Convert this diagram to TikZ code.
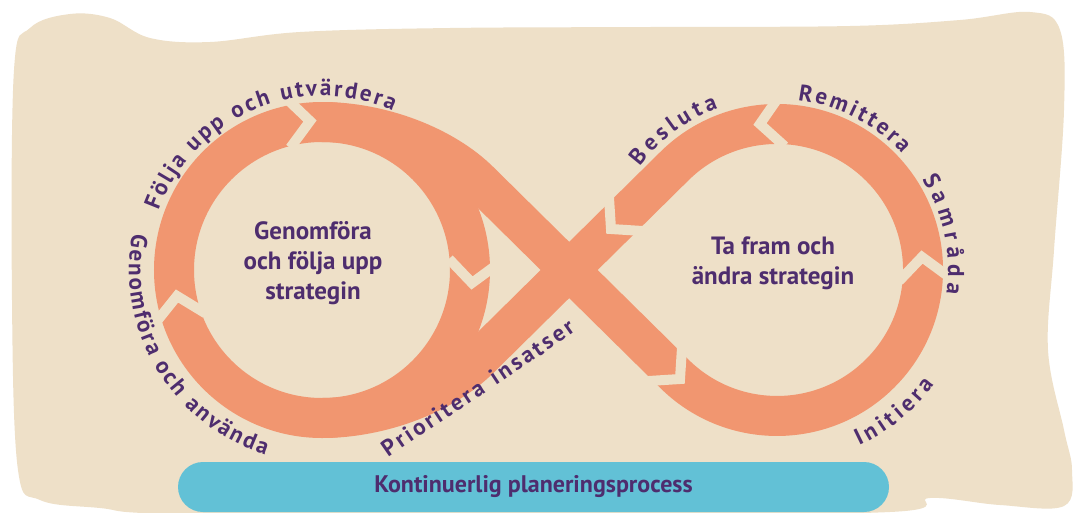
\documentclass[tikz,border=0pt]{standalone}
\usepackage{fontspec}
\setmainfont{PT Sans}
\usetikzlibrary{decorations.text}
\definecolor{beige}{RGB}{238,224,200}
\definecolor{salmon}{RGB}{241,150,112}
\definecolor{plum}{RGB}{78,45,110}
\definecolor{sky}{RGB}{98,193,214}
\newcommand\curvefont{\bfseries\fontsize{23}{23}\selectfont}
\tikzset{
  band/.style={draw=salmon, line width=40pt},
  gapline/.style={draw=beige, line width=10pt, line join=miter, miter limit=10},
  chev/.pic={\draw[gapline] (-22,25) -- (0,0) -- (-22,-25);},
  curvy/.style={decorate, decoration={text along path, text align=fit to path, text color=plum, text={#1}}},
  lbl/.style={text=plum, font=\bfseries\fontsize{25}{30}\selectfont, align=center},
}
\begin{document}
\begin{tikzpicture}[x=1pt,y=1pt]
\useasboundingbox (0,0) rectangle (1077,-512);
\fill[white] (0,0) rectangle (1077,-512);
% background blob
\fill[beige] plot[smooth cycle, tension=0.6] coordinates {
  (14,-70) (30,-28) (70,-14) (110,-18) (150,-38) (210,-42) (300,-32) (450,-28)
  (650,-27) (850,-26) (960,-20) (1030,-12) (1060,-30) (1064,-110) (1054,-250)
  (1048,-350) (1064,-430) (1072,-470) (1064,-506) (1000,-505) (930,-498)
  (890,-512) (550,-516) (180,-514) (100,-508) (40,-500) (18,-470) (12,-300)};
\coordinate (L) at (322,-270);
\coordinate (R) at (777,-270);
% orange bands
\draw[band] (L) circle[radius=148];
\draw[band] (322,-122) .. controls (381,-122) and (444,-146) .. (480,-182)
  -- (673.8,-373.2) arc[start angle=-135, end angle=135, radius=146]
  -- (480,-358) .. controls (444,-394) and (381,-418) .. (322,-418);
% chevron gaps
\path (310,-121) pic[rotate=5]{chev};
\path (472,-283) pic[rotate=-95]{chev};
\path (177,-296) pic[rotate=100]{chev};
\path (680,-379) pic[rotate=-45]{chev};
\path (922,-257) pic[rotate=95]{chev};
\path (760,-124) pic[rotate=186.6]{chev};
\path (611,-229) pic[rotate=225]{chev};
% curved labels
\path[curvy={|\curvefont|Följa upp och utvärdera}] (L) ++(160:174) arc[start angle=160, end angle=66, radius=174];
\path[curvy={|\curvefont|Genomföra och använda}] (L) ++(169:193) arc[start angle=169, end angle=253, radius=193];
\path[curvy={|\curvefont|Prioritera insatser}] (388,-458) .. controls (448,-416) and (512,-376) .. (576,-331);
\path[curvy={|\curvefont|Besluta}] (R) ++(143:172) arc[start angle=143, end angle=110, radius=172];
\path[curvy={|\curvefont|Remittera}] (R) ++(83:171) arc[start angle=83, end angle=43, radius=171];
\path[curvy={|\curvefont|Samråda}] (R) ++(32:171) arc[start angle=32, end angle=-8, radius=171];
\path[curvy={|\curvefont|Initiera}] (R) ++(-65:194) arc[start angle=-65, end angle=-36, radius=194];
% centre labels
\node[lbl] (inL) at (313,-263) {Genomföra\\och följa upp\\strategin};
\node[lbl] (inR) at (773,-263) {Ta fram och\\ändra strategin};
% bottom bar
\node[fill=sky, rounded corners=25pt, minimum width=711pt, minimum height=50pt, text=plum, font=\bfseries\fontsize{24}{28}\selectfont] (bar) at (533.5,-487) {Kontinuerlig planeringsprocess};
\end{tikzpicture}
\end{document}
